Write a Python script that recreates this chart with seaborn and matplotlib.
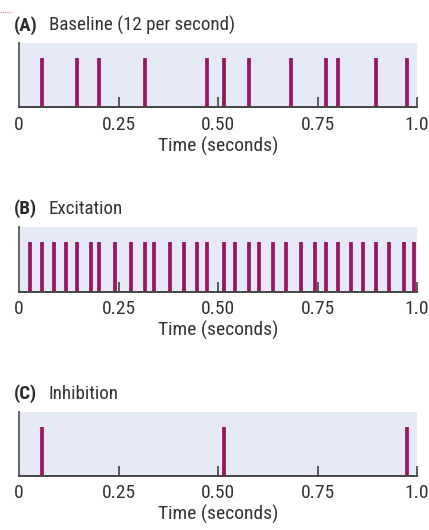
import matplotlib
matplotlib.use("Agg")
import matplotlib.pyplot as plt
from matplotlib.lines import Line2D
import seaborn as sns

# Spike times (seconds) for each recording condition
baseline_times = [0.057, 0.145, 0.201, 0.317, 0.472, 0.515, 0.577, 0.683,
                  0.771, 0.801, 0.898, 0.975]
excitation_times = [0.028, 0.058, 0.089, 0.119, 0.145, 0.181, 0.202, 0.242,
                    0.282, 0.316, 0.338, 0.380, 0.414, 0.448, 0.473, 0.515,
                    0.542, 0.578, 0.604, 0.637, 0.670, 0.708, 0.744, 0.771,
                    0.801, 0.833, 0.864, 0.898, 0.930, 0.967, 0.992]
inhibition_times = [0.057, 0.515, 0.975]

panel_letters = ["(A)", "(B)", "(C)"]
panel_names = ["Baseline (12 per second)", "Excitation", "Inhibition"]
tick_values = [0, 0.25, 0.50, 0.75, 1.0]
tick_labels = ["0", "0.25", "0.50", "0.75", "1.0"]
x_label = "Time (seconds)"

sns.set_theme(style="white")
plt.rcParams["font.family"] = ["Roboto Condensed", "DejaVu Sans"]

W, H = 429, 530
fig = plt.figure(figsize=(W / 100, H / 100), dpi=100)

spike_color = "#9B1560"
panel_bg = "#E6EAF6"
text_color = "#333333"
FS = 14
TITLE_FS = 13.7

# (top, bottom) pixel rows of each panel and the title baseline row
panel_rows = [(43.3, 107.3, 30.5), (227.3, 291.7, 214.3), (412.3, 476.0, 399.3)]
x_left, x_right = 19.0, 417.0

for times, letter, name, (top, bottom, title_y) in zip(
        [baseline_times, excitation_times, inhibition_times],
        panel_letters, panel_names, panel_rows):
    ax = fig.add_axes([x_left / W, 1 - bottom / H,
                       (x_right - x_left) / W, (bottom - top) / H])
    ax.set_facecolor(panel_bg)
    sns.rugplot(x=times, ax=ax, height=0.77, color=spike_color,
                linewidth=2.7, expand_margins=False)
    ax.set_xlim(0, 1)
    ax.set_ylim(0, 1)
    ax.set_yticks([])
    ax.set_xticks(tick_values)
    ax.set_xticklabels(tick_labels)
    ax.tick_params(axis="x", direction="in", length=7.5, width=1.1,
                   color="#333333", pad=6, labelsize=FS,
                   labelcolor=text_color, bottom=True)
    ax.set_xlabel(x_label, fontsize=FS, color=text_color, labelpad=2)
    for side in ("top", "right"):
        ax.spines[side].set_visible(False)
    ax.spines["left"].set_color("#666666")
    ax.spines["left"].set_linewidth(1.4)
    ax.spines["bottom"].set_color("#444444")
    ax.spines["bottom"].set_linewidth(1.4)

    fig.text(14 / W, 1 - title_y / H, letter, fontsize=TITLE_FS,
             fontweight="bold", color="#2a2a2a", va="baseline", ha="left")
    fig.text(49 / W, 1 - title_y / H, name, fontsize=TITLE_FS,
             color=text_color, va="baseline", ha="left")

# small dotted mark in the top-left corner
fig.add_artist(Line2D([0, 12 / W], [1 - 12 / H, 1 - 12 / H],
                      transform=fig.transFigure, color="#E070C0",
                      linestyle=(0, (1, 1)), linewidth=0.8))

fig.savefig("out.png", dpi=100)
